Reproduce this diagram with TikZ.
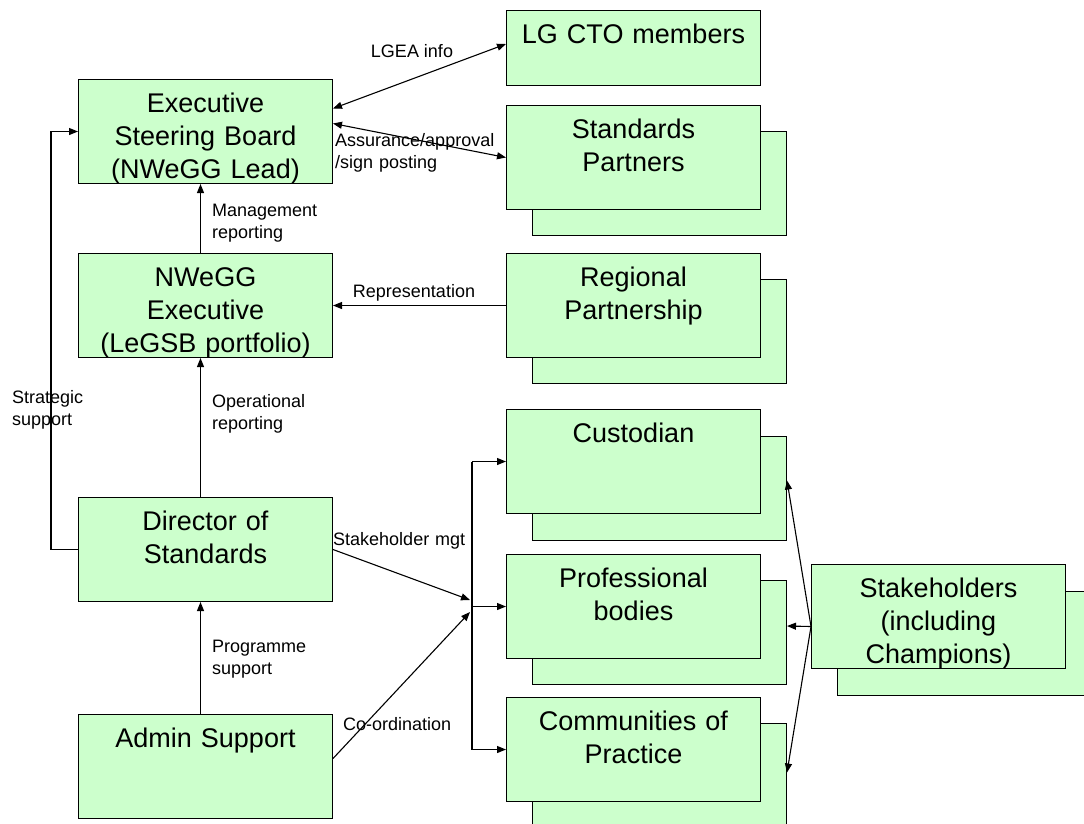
\documentclass[tikz,border=0pt]{standalone}
\usepackage{fontspec}
\setmainfont{Liberation Sans}
\usetikzlibrary{arrows.meta,calc}
\definecolor{boxfill}{HTML}{CCFFCC}
\begin{document}
\begin{tikzpicture}[x=1pt,y=-1pt,
  box/.style={draw=black, line width=1pt, fill=boxfill, anchor=north west,
    minimum width=254pt, minimum height=104pt, inner sep=0pt, text width=250pt,
    align=center, text height=33pt, text depth=71pt, font=\fontsize{27}{33}\selectfont},
  backbox/.style={draw=black, line width=1pt, fill=boxfill, anchor=north west,
    minimum width=254pt, minimum height=104pt, inner sep=0pt},
  lbl/.style={font=\fontsize{18}{22}\selectfont, inner sep=0pt, text width=175pt,
    align=left, anchor=base west},
  clbl/.style={font=\fontsize{18}{22}\selectfont, inner sep=0pt, anchor=base},
  arr/.style={line width=1.1pt, -{Triangle[length=9pt,width=7pt]}},
  darr/.style={line width=1.1pt, {Triangle[length=9pt,width=7pt]}-{Triangle[length=9pt,width=7pt]}},
  ln/.style={line width=1.1pt}]
\fill[white] (0,0) rectangle (1084,823);
\useasboundingbox (0,0) rectangle (1084,823);

% right column
\node[box, minimum height=75pt, text depth=42pt] (lg) at (506,10) {LG CTO members};
\node[backbox] (stdb) at (532,131) {};
\node[box] (std) at (506,105) {Standards\\Partners};
\node[backbox] (regb) at (532,279) {};
\node[box] (reg) at (506,253) {Regional\\Partnership};
\node[backbox] (cusb) at (532,436) {};
\node[box] (cus) at (506,409) {Custodian};
\node[backbox] (prob) at (532,580) {};
\node[box] (pro) at (506,554) {Professional\\bodies};
\node[backbox] (comb) at (532,723) {};
\node[box] (com) at (506,697) {Communities of\\Practice};
\node[backbox] (stkb) at (837,591) {};
\node[box] (stk) at (811,564) {Stakeholders\\(including\\Champions)};

% left column
\node[box] (esb) at (78,79) {Executive\\Steering Board\\(NWeGG Lead)};
\node[box] (nwe) at (78,253) {NWeGG\\Executive\\(LeGSB portfolio)};
\node[box] (dir) at (78,497) {Director of\\Standards};
\node[box] (adm) at (78,714) {Admin Support};

% connectors
\draw[darr] ([yshift=23pt]esb.east) -- ([yshift=4pt]lg.west);
\draw[darr] ([yshift=8pt]esb.east) -- (std.west);
\draw[arr] (reg.west) -- (nwe.east);
\draw[arr] ([xshift=-5pt]nwe.north) -- ([xshift=-5pt]esb.south);
\draw[arr] ([xshift=-5pt]dir.north) -- ([xshift=-5pt]nwe.south);
\draw[arr] ([xshift=-5pt]adm.north) -- ([xshift=-5pt]dir.south);
\coordinate (sx) at (51,131);
\draw[arr] (dir.west) -- (dir.west -| sx) -- (sx |- esb.west) -- (esb.west);

\coordinate (jn) at (472,606);
\draw[ln] (jn |- cus.west) -- (jn |- com.west);
\draw[arr] (jn |- cus.west) -- (cus.west);
\draw[arr] (jn |- pro.west) -- (pro.west);
\draw[arr] (jn |- com.west) -- (com.west);
\coordinate (j1) at (470,600);
\coordinate (j2) at (470,612);
\draw[arr] (dir.east) -- (j1);
\draw[arr] ([yshift=8pt]adm.east) -- (j2);

\coordinate (so) at ([yshift=-10pt]stk.west);
\draw[arr] (so) -- ([yshift=8pt]cusb.east);
\draw[arr] (so) -- ([yshift=6.5pt]prob.east);
\draw[arr] (so) -- ([yshift=3pt]comb.east);

% labels
\node[clbl] (l1) at (412,57) {LGEA info};
\node[lbl] (l2) at (335,146) {Assurance/approval\\/sign posting};
\node[clbl] (l3) at (414,297) {Representation};
\node[lbl] (l4) at (212,216) {Management\\reporting};
\node[lbl] (l5) at (212,407) {Operational\\reporting};
\node[lbl] (l6) at (212,652) {Programme\\support};
\node[lbl] (l7) at (12,403) {Strategic\\support};
\node[lbl] (l8) at (333,545) {Stakeholder mgt};
\node[lbl] (l9) at (343,730) {Co-ordination};
\end{tikzpicture}
\end{document}
